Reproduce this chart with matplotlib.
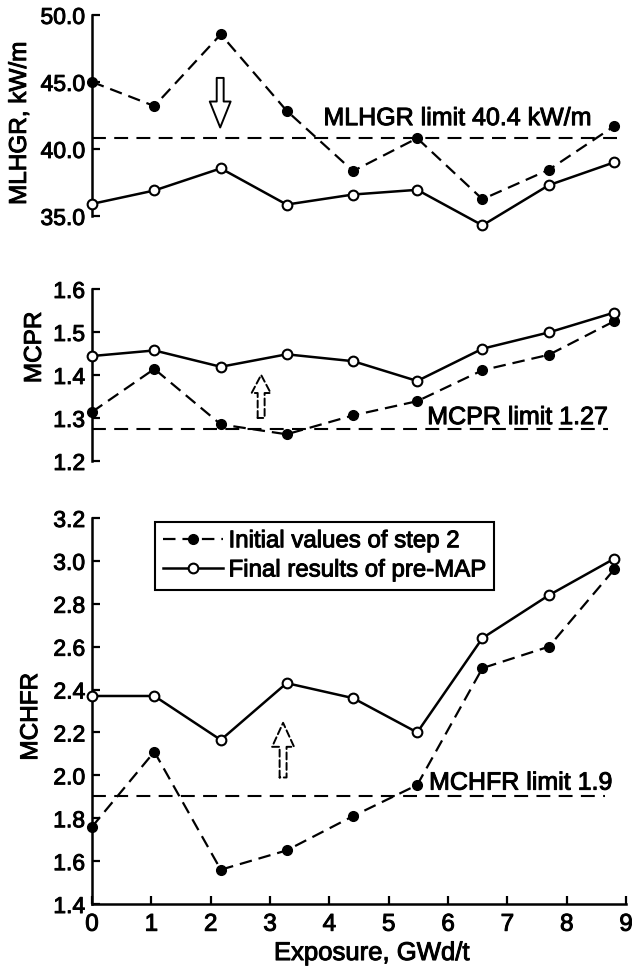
import matplotlib
matplotlib.use("Agg")
import matplotlib.pyplot as plt
import matplotlib.patheffects as pe

plt.rcParams['font.family'] = ['Liberation Sans', 'DejaVu Sans']
plt.rcParams['font.size'] = 16.5
plt.rcParams['lines.scale_dashes'] = False

# exposure points (GWd/t)
exposure = [0, 1.05, 2.17, 3.28, 4.4, 5.48, 6.58, 7.7, 8.8]

# MLHGR, kW/m
mlhgr_init = [45.0, 43.2, 48.55, 42.85, 38.35, 40.8, 36.25, 38.45, 41.7]
mlhgr_final = [35.9, 36.9, 38.55, 35.85, 36.6, 36.95, 34.3, 37.3, 39.0]
# MCPR
mcpr_init = [1.314, 1.414, 1.285, 1.262, 1.306, 1.339, 1.411, 1.447, 1.525]
mcpr_final = [1.444, 1.457, 1.419, 1.448, 1.432, 1.386, 1.461, 1.499, 1.545]
# MCHFR
mchfr_init = [1.76, 2.11, 1.56, 1.65, 1.81, 1.955, 2.50, 2.60, 2.96]
mchfr_final = [2.37, 2.37, 2.165, 2.43, 2.36, 2.20, 2.64, 2.84, 3.01]

limits = [40.8, 1.275, 1.905]
limit_end = [8.95, 8.7, 8.65]
limit_text = ['MLHGR limit 40.4 kW/m', 'MCPR limit 1.27', 'MCHFR limit 1.9']
limit_text_pos = [(3.9, 42.3), (5.65, 1.302), (5.68, 1.966)]

ylabels = ['MLHGR, kW/m', 'MCPR', 'MCHFR']
ylims = [(35, 50), (1.2, 1.6), (1.4, 3.2)]
yticks = [[35, 40, 45, 50], [1.2, 1.3, 1.4, 1.5, 1.6],
          [1.4, 1.6, 1.8, 2.0, 2.2, 2.4, 2.6, 2.8, 3.0, 3.2]]
ylabel_pos = [(-0.135, 0.46), (-0.107, 0.66), (-0.114, 0.485)]

# arrows: x, tail y, head y, dashed outline, head length, head width
arrows = [(2.16, 45.3, 41.6, False, 1.87, 1.5),
          (2.85, 1.30, 1.40, True, 1.3, 1.37),
          (3.22, 1.99, 2.245, True, 1.73, 1.58)]

heavy = [pe.withStroke(linewidth=0.7, foreground='black')]

fig = plt.figure(figsize=(6.32, 9.68), dpi=100)
rects = [[0.1456, 0.7769, 0.845, 0.2077],
         [0.1456, 0.5238, 0.845, 0.1777],
         [0.1456, 0.0661, 0.845, 0.3988]]
axes = [fig.add_axes(r) for r in rects]

init_data = [mlhgr_init, mcpr_init, mchfr_init]
final_data = [mlhgr_final, mcpr_final, mchfr_final]

for i, ax in enumerate(axes):
    l1, = ax.plot(exposure, init_data[i], color='black', lw=1.6, ls=(0, (9, 5)),
                  marker='o', ms=7, mfc='black', mec='black', clip_on=False, zorder=3)
    l2, = ax.plot(exposure, final_data[i], color='black', lw=1.8, ls='-',
                  marker='o', ms=7, mfc='white', mec='black', mew=1.5, clip_on=False, zorder=4)
    ax.plot([0, limit_end[i]], [limits[i], limits[i]], color='black', lw=1.5,
            ls=(0, (10, 6)), clip_on=False, zorder=2)
    ax.text(limit_text_pos[i][0], limit_text_pos[i][1], limit_text[i],
            ha='left', va='center', fontsize=18, path_effects=heavy)

    ax.set_xlim(0, 9)
    ax.set_ylim(*ylims[i])
    ax.set_yticks(yticks[i])
    ax.set_yticklabels(['{:.1f}'.format(v) for v in yticks[i]], path_effects=heavy)
    ax.set_ylabel(ylabels[i], fontsize=17.5, va='center', path_effects=heavy)
    ax.yaxis.set_label_coords(*ylabel_pos[i])
    for s in ['top', 'right']:
        ax.spines[s].set_visible(False)
    ax.spines['left'].set_linewidth(1.8)
    ax.spines['bottom'].set_linewidth(1.8)
    ax.tick_params(direction='in', length=6, width=1.6, pad=5, labelsize=16.5)
    if i < 2:
        ax.spines['bottom'].set_visible(False)
        ax.tick_params(axis='x', bottom=False, labelbottom=False)
    else:
        ax.set_xticks(range(10))
        ax.set_xticklabels([str(v) for v in range(10)], path_effects=heavy)
        ax.tick_params(axis='x', pad=7, labelsize=17.5)
        ax.set_xlabel('Exposure, GWd/t', fontsize=18.5, va='center', path_effects=heavy)
        ax.xaxis.set_label_coords(0.524, -0.127)
        leg = ax.legend([l1, l2], ['Initial values of step 2', 'Final results of pre-MAP'],
                        loc='upper left', bbox_to_anchor=(0.118, 0.99), borderaxespad=0,
                        fancybox=False, framealpha=1, edgecolor='black', handlelength=2.46,
                        handletextpad=0.25, borderpad=0.35, labelspacing=0.3, fontsize=17.3)
        leg.get_frame().set_linewidth(1.5)
        for t in leg.get_texts():
            t.set_path_effects(heavy)

    ax_x, y0, y1, dashed, hl, hw = arrows[i]
    ax.annotate('', xy=(ax_x, y1), xytext=(ax_x, y0),
                arrowprops=dict(arrowstyle='simple,head_length=%g,head_width=%g,tail_width=0.5' % (hl, hw),
                                mutation_scale=10, fc='white', ec='black', lw=1.4,
                                ls=(0, (5, 2.5)) if dashed else '-', shrinkA=0, shrinkB=0))

fig.savefig('out.png', dpi=100)
